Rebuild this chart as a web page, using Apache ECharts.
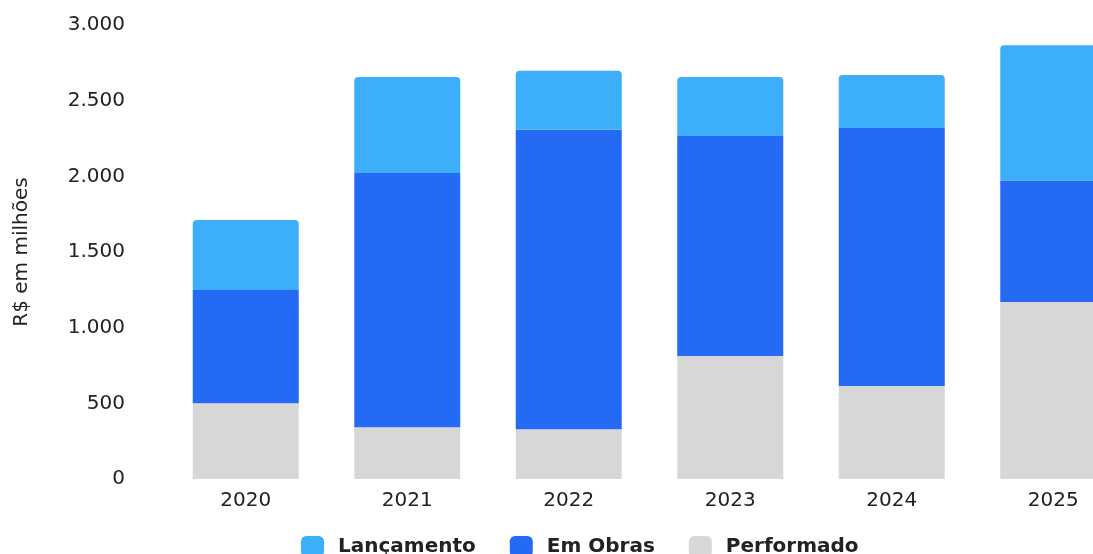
<!DOCTYPE html>
<html><head><meta charset="utf-8">
<script src="https://cdn.jsdelivr.net/npm/echarts@6/dist/echarts.min.js"></script>
<style>html,body{margin:0;padding:0;background:#fff;overflow:hidden}#c{width:1169px;height:554px}</style>
</head><body><div id="c"></div>
<script>
const categories = ['2020','2021','2022','2023','2024','2025'];
const performado = [500, 342, 328, 813, 615, 1170];
const emObras = [749, 1680, 1979, 1454, 1705, 802];
const lancamento = [463, 635, 390, 390, 350, 894];
const yTicks = [0, 500, 1000, 1500, 2000, 2500, 3000];

const FONT = 'DejaVu Sans';
const chart = echarts.init(document.getElementById('c'));
chart.setOption({
  animation: false,
  textStyle: {fontFamily: FONT},
  grid: {left: 165, top: 25, width: 969, height: 454},
  legend: {
    data: ['Lançamento', 'Em Obras', 'Performado'],
    left: 296, top: 531,
    itemWidth: 23, itemHeight: 21, itemGap: 34,
    icon: 'roundRect',
    textStyle: {fontFamily: FONT, fontWeight: 'bold', fontSize: 20, color: '#222', padding: [0, 0, 0, 9]}
  },
  xAxis: {
    type: 'category', data: categories,
    axisLine: {show: false}, axisTick: {show: false},
    axisLabel: {fontSize: 20, color: '#222', margin: 12}
  },
  yAxis: {
    type: 'value', min: yTicks[0], max: yTicks[yTicks.length-1], interval: 500,
    name: 'R$ em milhões', nameLocation: 'middle', nameGap: 133, nameRotate: 90,
    nameTextStyle: {fontSize: 20, color: '#222'},
    splitLine: {show: false}, axisLine: {show: false}, axisTick: {show: false},
    axisLabel: {fontSize: 20, color: '#222', margin: 40,
      formatter: v => v.toLocaleString('de-DE')}
  },
  series: [
    {name: 'Performado', type: 'bar', stack: 't', data: performado, barWidth: 106,
      itemStyle: {color: '#D7D7D7'}},
    {name: 'Em Obras', type: 'bar', stack: 't', data: emObras, barWidth: 106,
      itemStyle: {color: '#256AF4'}},
    {name: 'Lançamento', type: 'bar', stack: 't', data: lancamento, barWidth: 106,
      itemStyle: {color: '#3DAFFA', borderRadius: [4, 4, 0, 0]}}
  ]
});
</script></body></html>
